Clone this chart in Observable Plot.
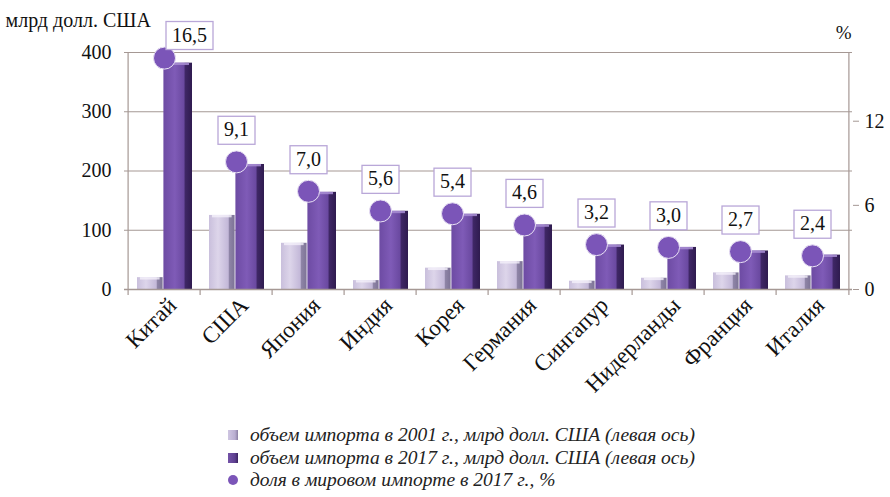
<!DOCTYPE html>
<html>
<head>
<meta charset="utf-8">
<script src="https://cdn.jsdelivr.net/npm/d3@7"></script>
<script src="https://cdn.jsdelivr.net/npm/@observablehq/plot@0.6"></script>
<style>
  body { margin: 0; background: #fff; font-family: "Liberation Serif", "Times New Roman", Tinos, "DejaVu Serif", serif; }
  #wrap { position: relative; width: 890px; height: 497px; }
  #chart svg, #chart svg text { font-family: "Liberation Serif", "Times New Roman", Tinos, "DejaVu Serif", serif !important; }
  #legend { position: absolute; left: 228px; top: 424px; font-style: italic; font-size: 19.5px; color: #222; line-height: 22.5px; }
  .li { display: flex; align-items: center; white-space: nowrap; }
  .mk { width: 10px; height: 10px; margin-right: 12px; }
</style>
</head>
<body>
<div id="wrap">
  <div id="chart"></div>
  <div id="legend">
    <div class="li"><span class="mk" style="background:linear-gradient(90deg,#cfc6e2,#b9aed1 70%,#8a7fa3)"></span>объем импорта в 2001 г., млрд долл. США (левая ось)</div>
    <div class="li"><span class="mk" style="background:linear-gradient(90deg,#7453a8,#5d3f8f 70%,#3b2460)"></span>объем импорта в 2017 г., млрд долл. США (левая ось)</div>
    <div class="li"><span class="mk" style="border-radius:50%;background:#7b55b8"></span>доля в мировом импорте в 2017 г., %</div>
  </div>
</div>
<script>
const countries = ["Китай", "США", "Япония", "Индия", "Корея", "Германия", "Сингапур", "Нидерланды", "Франция", "Италия"];
const import2001 = [20, 125, 78, 15, 36, 47, 14, 19, 28, 23];
const import2017 = [382, 211, 164, 132, 127, 109, 75, 71, 65, 58];
const share2017 = [16.5, 9.1, 7.0, 5.6, 5.4, 4.6, 3.2, 3.0, 2.7, 2.4];
const leftTicks = [0, 100, 200, 300, 400];
const rightTicks = [0, 6, 12];
const rightMax = 16.9;
const leftMax = 400;

const k = leftMax / rightMax;
const rows = countries.map((c, i) => ({c, v01: import2001[i], v17: import2017[i], s: share2017[i], lbl: share2017[i].toFixed(1).replace(".", ",")}));

const W = 890, H = 415, mL = 124, mR = 38, mT = 52, mB = 126;
const bw = (W - mL - mR) / countries.length;
const grid = "#a59894";
const serif = "Liberation Serif, Times New Roman, Tinos, DejaVu Serif, serif";

const plot = Plot.plot({
  width: W, height: H,
  marginLeft: mL, marginRight: mR, marginTop: mT, marginBottom: mB,
  style: {fontFamily: serif, fontSize: "19px", color: "#111", background: "transparent"},
  x: {type: "band", domain: countries, padding: 0, label: null},
  y: {domain: [0, leftMax], label: null},
  marks: [
    Plot.ruleY(leftTicks.slice(1), {stroke: grid, strokeWidth: 1.2}),
    Plot.ruleX([countries[0]], {dx: -bw / 2, y1: 0, y2: leftMax, stroke: grid, strokeWidth: 1.2}),
    Plot.ruleX([countries[countries.length - 1]], {dx: bw / 2, y1: 0, y2: leftMax, stroke: grid, strokeWidth: 1.2}),
    Plot.barY(rows, {x: "c", y: "v01", fill: "url(#g01)", insetLeft: 9, insetRight: bw / 2 + 1}),
    Plot.barY(rows, {x: "c", y: "v17", fill: "url(#g17)", insetLeft: bw / 2 - 1, insetRight: 8}),
    Plot.barY(rows, {x: "c", y1: d => d.v01 - 4, y2: "v01", fill: "#f4f0fa", fillOpacity: 0.8, insetLeft: 12, insetRight: bw / 2 + 4}),
    Plot.barY(rows, {x: "c", y1: d => d.v17 - 4, y2: "v17", fill: "#a58bd0", fillOpacity: 0.9, insetLeft: bw / 2 + 2, insetRight: 11}),
    Plot.ruleY([0], {stroke: grid, strokeWidth: 1.5}),
    Plot.ruleX(countries, {x: d => d, dx: -bw / 2, y1: 0, y2: -10, stroke: grid, strokeWidth: 1.2}),
    Plot.ruleX([countries[countries.length - 1]], {dx: bw / 2, y1: 0, y2: -10, stroke: grid, strokeWidth: 1.2}),
    Plot.dot(rows, {x: "c", y: d => d.s * k, r: 11, fill: "#7b55b8", stroke: "#e9e2f4", strokeWidth: 1}),
    Plot.text(rows.slice(1), {x: "c", y: d => d.s * k, text: "lbl", dy: -32, fontSize: 20, fill: "#111"}),
    Plot.text(rows.slice(0, 1), {x: "c", y: d => d.s * k, text: "lbl", dx: 25, dy: -23, fontSize: 20, fill: "#111"}),
    Plot.axisY(leftTicks, {anchor: "left", tickSize: 0, tickPadding: 13, fontSize: 20, label: null}),
    Plot.axisY(rightTicks.map(v => v * k), {anchor: "right", tickSize: 6, tickPadding: 6, stroke: grid, fontSize: 20, tickFormat: v => String(Math.round(v / k)), label: null}),
    Plot.axisX({tickSize: 0, tickRotate: -45, tickPadding: 12, dx: 8, fontSize: 23, label: null}),
    Plot.text(["млрд долл. США"], {frameAnchor: "top-left", dx: -119, dy: -40, textAnchor: "start", fontSize: 20, fill: "#111"}),
    Plot.text(["%"], {frameAnchor: "top-right", dx: -1, dy: -27, textAnchor: "end", fontSize: 19, fill: "#111"})
  ]
});

document.getElementById("chart").appendChild(plot);
const svg = d3.select(plot);
const defs = svg.insert("defs", ":first-child");
function grad(id, stops) {
  const g = defs.append("linearGradient").attr("id", id).attr("x1", "0").attr("x2", "1").attr("y1", "0").attr("y2", "0");
  stops.forEach(([o, c]) => g.append("stop").attr("offset", o).attr("stop-color", c));
}
grad("g01", [["0", "#c9bfdc"], ["0.35", "#ddd5ea"], ["0.75", "#c3b8d8"], ["0.8", "#8e84a6"], ["1", "#7d7396"]]);
grad("g17", [["0", "#6d4ba3"], ["0.4", "#7f5bb7"], ["0.72", "#6a49a0"], ["0.76", "#3f2766"], ["1", "#2f1b4f"]]);

// boxes behind share labels
const labelSet = new Set(rows.map(r => r.lbl));
svg.selectAll("text").filter(function() { return labelSet.has(this.textContent); }).each(function() {
  const b = this.getBBox();
  const padX = 6, padY = 3;
  const t = this.getAttribute("transform");
  const r = d3.select(this.parentNode).insert("rect", () => this)
    .attr("x", b.x - padX).attr("y", b.y - padY + 1)
    .attr("width", b.width + 2 * padX).attr("height", b.height + 2 * padY)
    .attr("fill", "#fff").attr("stroke", "#b9a7d8").attr("stroke-width", 1.3);
  if (t) r.attr("transform", t);
});
</script>
</body>
</html>
